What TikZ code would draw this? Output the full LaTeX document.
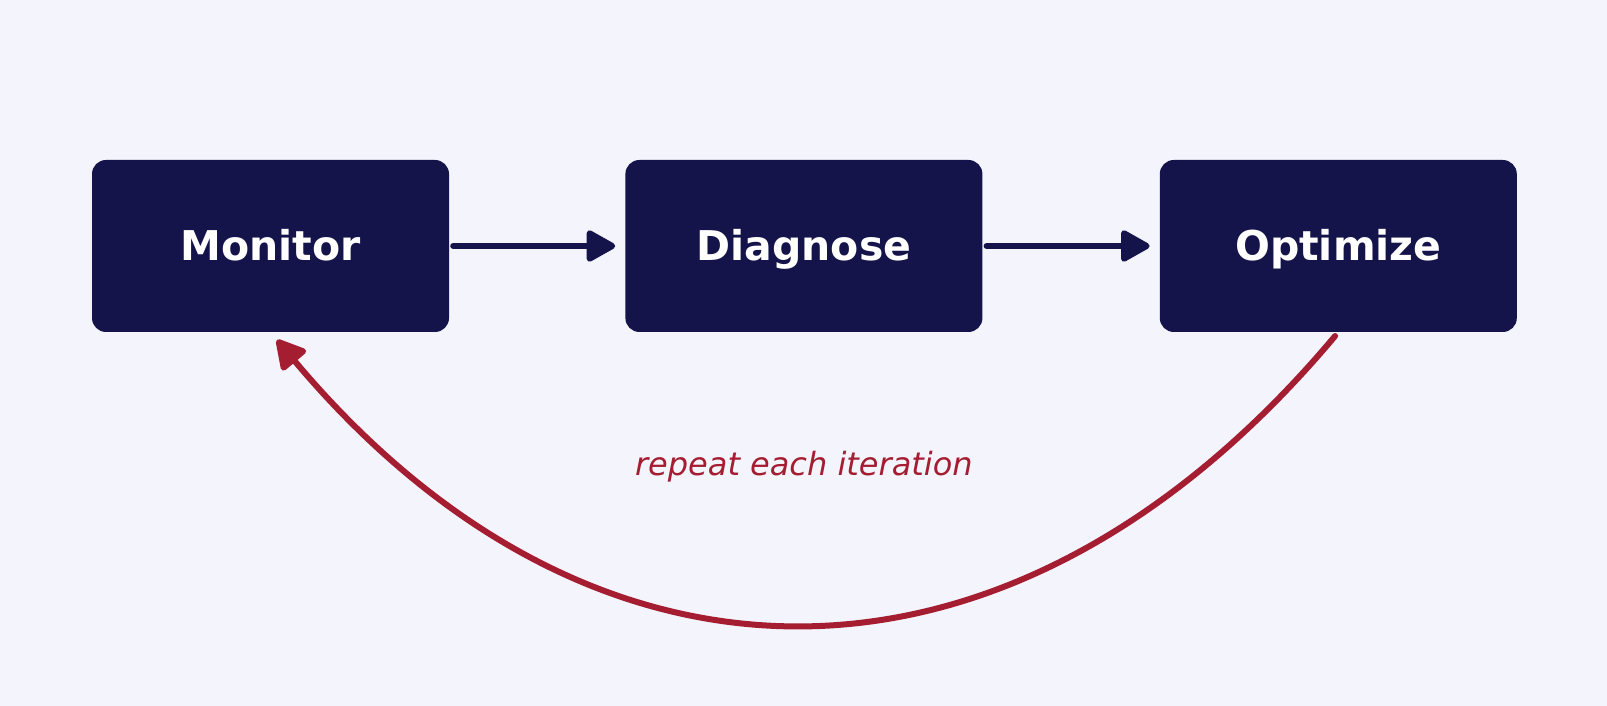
\documentclass[tikz,border=0pt]{standalone}
\usepackage{fontspec}
\setmainfont{DejaVu Sans}
\usetikzlibrary{arrows.meta,positioning}
\definecolor{navy}{HTML}{15144A}
\definecolor{loopred}{HTML}{A51D31}
\definecolor{paper}{HTML}{F3F4FC}
\tikzset{
         stagebox/.style=
          {
           draw=none,fill=navy,rounded corners=14pt,
           minimum width=357pt,minimum height=172pt,
           text height=30pt,text depth=0pt,
           text=white,font=\fontsize{41}{49}\selectfont\bfseries
          },
         flow/.style=
          {
           draw=navy,line width=6pt,line cap=round,
           -{Triangle[length=32pt,width=34pt,round]},
           shorten <=4pt,shorten >=10pt
          },
         loopback/.style=
          {
           draw=loopred,line width=6pt,line cap=round,
           -{Triangle[length=32pt,width=34pt,round]},
           shorten <=5pt,shorten >=10pt
          }
        }

\begin{document}
\begin{tikzpicture}[node distance=176pt]
%background
\fill[paper](0,0)rectangle(1607pt,706pt);
\useasboundingbox(0,0)rectangle(1607pt,706pt);
%stages
\node[stagebox](monitor) at(270.5pt,460pt){Monitor};
\node[stagebox,right=of monitor](diagnose){Diagnose};
\node[stagebox,right=177pt of diagnose](optimize){Optimize};
%arrows
\draw[flow](monitor.east)--(diagnose.west);
\draw[flow](diagnose.east)--(optimize.west);
\draw[loopback](optimize.south).. controls +(-130:505pt) and +(-50:505pt) ..(monitor.south);
%labels
\node[text=loopred,font=\fontsize{32}{38}\selectfont\itshape](note) at([yshift=-221pt]diagnose.center){repeat each iteration};
\end{tikzpicture}
\end{document}
